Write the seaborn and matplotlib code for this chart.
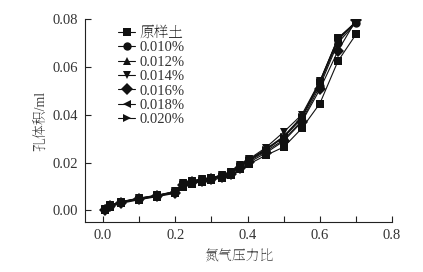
import numpy as np
import pandas as pd
import matplotlib
matplotlib.use("Agg")
import matplotlib.pyplot as plt
import seaborn as sns

# relative pressure (P/P0)
pressure = [0.005, 0.02, 0.05, 0.10, 0.15, 0.20, 0.22, 0.245, 0.275, 0.30,
            0.33, 0.355, 0.38, 0.405, 0.45, 0.50, 0.55, 0.60, 0.65, 0.70]

series_names = ["原样土", "0.010%", "0.012%", "0.014%", "0.016%", "0.018%", "0.020%"]

vol_raw = [0.0003, 0.0015, 0.0030, 0.0045, 0.0058, 0.0072, 0.0100, 0.0112, 0.0120, 0.0127,
           0.0137, 0.0148, 0.0172, 0.0195, 0.0230, 0.0265, 0.0343, 0.0447, 0.0624, 0.0736]
vol_010 = [0.0005, 0.0020, 0.0034, 0.0049, 0.0061, 0.0076, 0.0110, 0.0120, 0.0127, 0.0133,
           0.0144, 0.0156, 0.0182, 0.0207, 0.0247, 0.0295, 0.0375, 0.0520, 0.0700, 0.0785]
vol_012 = [0.0006, 0.0021, 0.0035, 0.0050, 0.0062, 0.0078, 0.0113, 0.0122, 0.0129, 0.0135,
           0.0146, 0.0158, 0.0185, 0.0210, 0.0252, 0.0305, 0.0385, 0.0530, 0.0710, 0.0790]
vol_014 = [0.0007, 0.0023, 0.0037, 0.0052, 0.0064, 0.0080, 0.0116, 0.0125, 0.0131, 0.0137,
           0.0149, 0.0162, 0.0190, 0.0216, 0.0262, 0.0328, 0.0400, 0.0540, 0.0720, 0.0785]
vol_016 = [0.0004, 0.0018, 0.0033, 0.0047, 0.0060, 0.0075, 0.0108, 0.0118, 0.0125, 0.0131,
           0.0141, 0.0153, 0.0178, 0.0202, 0.0240, 0.0290, 0.0370, 0.0506, 0.0667, 0.0795]
vol_018 = [0.0006, 0.0022, 0.0036, 0.0051, 0.0063, 0.0079, 0.0114, 0.0124, 0.0130, 0.0136,
           0.0147, 0.0160, 0.0187, 0.0213, 0.0256, 0.0310, 0.0392, 0.0540, 0.0715, 0.0790]
vol_020 = [0.0005, 0.0021, 0.0036, 0.0050, 0.0063, 0.0078, 0.0112, 0.0123, 0.0129, 0.0135,
           0.0146, 0.0159, 0.0186, 0.0212, 0.0254, 0.0308, 0.0390, 0.0535, 0.0720, 0.0788]

volumes = [vol_raw, vol_010, vol_012, vol_014, vol_016, vol_018, vol_020]
marker_list = ["s", "o", "^", "v", "D", "<", ">"]

x_ticks = [0.0, 0.2, 0.4, 0.6, 0.8]
y_ticks = [0.00, 0.02, 0.04, 0.06, 0.08]

df = pd.DataFrame({
    "p": np.tile(pressure, len(series_names)),
    "v": np.concatenate(volumes),
    "s": np.repeat(series_names, len(pressure)),
})

sns.set_style("ticks")
plt.rcParams["font.family"] = ["Liberation Serif", "Noto Serif SC"]

fig = plt.figure(figsize=(4.23, 2.72), dpi=100)
ax = fig.add_axes([0.201, 0.184, 0.726, 0.746])

sns.lineplot(data=df, x="p", y="v", hue="s", style="s", hue_order=series_names,
             style_order=series_names, palette=["#111111"] * 7,
             markers=dict(zip(series_names, marker_list)), dashes=False,
             markersize=6, markeredgewidth=0, linewidth=0.8, ax=ax)

ax.set_xlim(-0.05, 0.8)
ax.set_ylim(-0.0048, 0.08)
ax.set_xticks(x_ticks)
ax.set_xticks(np.arange(0.1, 0.8, 0.2), minor=True)
ax.set_yticks(y_ticks)
ax.set_xticklabels([f"{t:.1f}" for t in x_ticks])
ax.set_yticklabels([f"{t:.2f}" for t in y_ticks])
ax.tick_params(axis="both", which="both", direction="in", length=4, width=0.8,
               labelsize=10.5, colors="#222222", labelcolor="#333333", pad=5)
for sp in ["left", "bottom"]:
    ax.spines[sp].set_linewidth(0.8)
    ax.spines[sp].set_color("#222222")
sns.despine(ax=ax)

ax.set_xlabel("氮气压力比", fontsize=10, color="#444444", labelpad=6)
ax.set_ylabel("孔体积/ml", fontsize=10, color="#444444", labelpad=3)

handles, labels = ax.get_legend_handles_labels()
ax.legend(handles, labels, loc="upper left", bbox_to_anchor=(0.09, 0.995), frameon=False,
          fontsize=10.5, handlelength=1.15, handletextpad=0.3, labelspacing=0.085,
          borderaxespad=0, labelcolor="#333333")

fig.savefig("out.png", dpi=100)
